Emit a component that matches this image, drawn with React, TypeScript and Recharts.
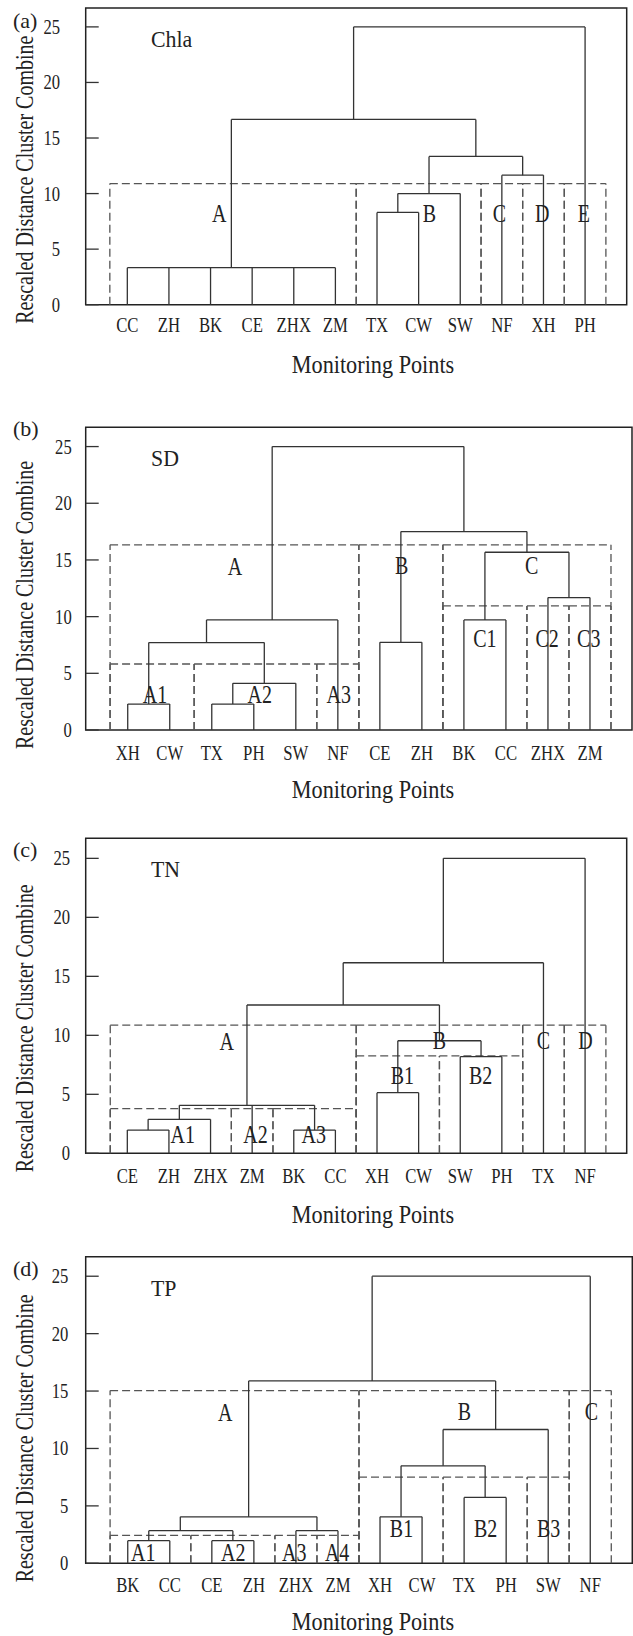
import React from 'react';
import { ComposedChart, XAxis, YAxis, ReferenceLine, ReferenceArea, Scatter } from 'recharts';

const FONT = "'Liberation Serif', 'Times New Roman', Times, serif";
const SOLID = '#333';
const DASH = '#555';
const TEXT = '#222';

// ---------- (a) Chla ----------
const leavesA = ['CC', 'ZH', 'BK', 'CE', 'ZHX', 'ZM', 'TX', 'CW', 'SW', 'NF', 'XH', 'PH'];
const mergesA = [
  { kids: ['CC', 'ZH', 'BK', 'CE', 'ZHX', 'ZM'], h: 3.33 },
  { kids: ['TX', 'CW'], h: 8.3 },
  { kids: ['#1', 'SW'], h: 10.0 },
  { kids: ['NF', 'XH'], h: 11.66 },
  { kids: ['#2', '#3'], h: 13.34 },
  { kids: ['#0', '#4'], h: 16.67 },
  { kids: ['#5', 'PH'], h: 25 },
];
const boxesA = [
  { x1: -0.42, x2: 5.5, top: 10.9 },
  { x1: 5.5, x2: 8.5, top: 10.9 },
  { x1: 8.5, x2: 9.5, top: 10.9 },
  { x1: 9.5, x2: 10.5, top: 10.9 },
  { x1: 10.5, x2: 11.5, top: 10.9 },
];
const groupLabelsA = [
  { name: 'A', x: 2.21, y: 8.2 },
  { name: 'B', x: 7.26, y: 8.2 },
  { name: 'C', x: 8.94, y: 8.2 },
  { name: 'D', x: 9.97, y: 8.2 },
  { name: 'E', x: 10.97, y: 8.2 },
];

// ---------- (b) SD ----------
const leavesB = ['XH', 'CW', 'TX', 'PH', 'SW', 'NF', 'CE', 'ZH', 'BK', 'CC', 'ZHX', 'ZM'];
const mergesB = [
  { kids: ['XH', 'CW'], h: 2.29 },
  { kids: ['TX', 'PH'], h: 2.29 },
  { kids: ['#1', 'SW'], h: 4.12 },
  { kids: ['#0', '#2'], h: 7.71 },
  { kids: ['#3', 'NF'], h: 9.71 },
  { kids: ['CE', 'ZH'], h: 7.73 },
  { kids: ['BK', 'CC'], h: 9.71 },
  { kids: ['ZHX', 'ZM'], h: 11.68 },
  { kids: ['#6', '#7'], h: 15.68 },
  { kids: ['#5', '#8'], h: 17.5 },
  { kids: ['#4', '#9'], h: 25 },
];
const boxesB = [
  { x1: -0.42, x2: 5.5, top: 16.33 },
  { x1: 5.5, x2: 7.5, top: 16.33 },
  { x1: 7.5, x2: 11.5, top: 16.33 },
  { x1: -0.42, x2: 1.58, top: 5.82 },
  { x1: 1.58, x2: 4.5, top: 5.82 },
  { x1: 4.5, x2: 5.5, top: 5.82 },
  { x1: 7.5, x2: 9.5, top: 10.94 },
  { x1: 9.5, x2: 10.5, top: 10.94 },
  { x1: 10.5, x2: 11.5, top: 10.94 },
];
const groupLabelsB = [
  { name: 'A', x: 2.55, y: 14.4 },
  { name: 'A1', x: 0.65, y: 3.1 },
  { name: 'A2', x: 3.14, y: 3.1 },
  { name: 'A3', x: 5.02, y: 3.1 },
  { name: 'B', x: 6.52, y: 14.5 },
  { name: 'C', x: 9.61, y: 14.5 },
  { name: 'C1', x: 8.5, y: 8.1 },
  { name: 'C2', x: 9.98, y: 8.1 },
  { name: 'C3', x: 10.97, y: 8.1 },
];

// ---------- (c) TN ----------
const leavesC = ['CE', 'ZH', 'ZHX', 'ZM', 'BK', 'CC', 'XH', 'CW', 'SW', 'PH', 'TX', 'NF'];
const mergesC = [
  { kids: ['CE', 'ZH'], h: 1.97 },
  { kids: ['#0', 'ZHX'], h: 2.88 },
  { kids: ['BK', 'CC'], h: 1.97 },
  { kids: ['#1', 'ZM', '#2'], h: 4.07 },
  { kids: ['XH', 'CW'], h: 5.14 },
  { kids: ['SW', 'PH'], h: 8.19 },
  { kids: ['#4', '#5'], h: 9.54 },
  { kids: ['#3', '#6'], h: 12.57 },
  { kids: ['#7', 'TX'], h: 16.15 },
  { kids: ['#8', 'NF'], h: 25 },
];
const boxesC = [
  { x1: -0.41, x2: 5.5, top: 10.87 },
  { x1: 5.5, x2: 9.5, top: 10.87 },
  { x1: 9.5, x2: 10.5, top: 10.87 },
  { x1: 10.5, x2: 11.5, top: 10.87 },
  { x1: -0.41, x2: 2.5, top: 3.78 },
  { x1: 2.5, x2: 3.5, top: 3.78 },
  { x1: 3.5, x2: 5.5, top: 3.78 },
  { x1: 5.5, x2: 7.5, top: 8.25 },
  { x1: 7.5, x2: 9.5, top: 8.25 },
];
const groupLabelsC = [
  { name: 'A', x: 2.39, y: 9.5 },
  { name: 'A1', x: 1.33, y: 1.6 },
  { name: 'A2', x: 3.08, y: 1.6 },
  { name: 'A3', x: 4.48, y: 1.6 },
  { name: 'B', x: 7.5, y: 9.6 },
  { name: 'B1', x: 6.61, y: 6.6 },
  { name: 'B2', x: 8.49, y: 6.6 },
  { name: 'C', x: 10.0, y: 9.6 },
  { name: 'D', x: 11.01, y: 9.6 },
];

// ---------- (d) TP ----------
const leavesD = ['BK', 'CC', 'CE', 'ZH', 'ZHX', 'ZM', 'XH', 'CW', 'TX', 'PH', 'SW', 'NF'];
const mergesD = [
  { kids: ['BK', 'CC'], h: 1.97 },
  { kids: ['CE', 'ZH'], h: 1.97 },
  { kids: ['#0', '#1'], h: 2.84, stem: 1.25 },
  { kids: ['ZHX', 'ZM'], h: 2.84 },
  { kids: ['#2', '#3'], h: 4.05 },
  { kids: ['XH', 'CW'], h: 4.05 },
  { kids: ['TX', 'PH'], h: 5.74 },
  { kids: ['#5', '#6'], h: 8.49 },
  { kids: ['#7', 'SW'], h: 11.65 },
  { kids: ['#4', '#8'], h: 15.88 },
  { kids: ['#9', 'NF'], h: 25 },
];
const boxesD = [
  { x1: -0.42, x2: 5.5, top: 15.04 },
  { x1: 5.5, x2: 10.5, top: 15.04 },
  { x1: 10.5, x2: 11.5, top: 15.04 },
  { x1: -0.42, x2: 1.5, top: 2.43 },
  { x1: 1.5, x2: 3.5, top: 2.43 },
  { x1: 3.5, x2: 4.5, top: 2.43 },
  { x1: 4.5, x2: 5.5, top: 2.43 },
  { x1: 5.5, x2: 7.5, top: 7.5 },
  { x1: 7.5, x2: 9.5, top: 7.5 },
  { x1: 9.5, x2: 10.5, top: 7.5 },
];
const groupLabelsD = [
  { name: 'A', x: 2.32, y: 13.1 },
  { name: 'A1', x: 0.37, y: 0.9 },
  { name: 'A2', x: 2.51, y: 0.9 },
  { name: 'A3', x: 3.96, y: 0.9 },
  { name: 'A4', x: 4.98, y: 0.9 },
  { name: 'B', x: 8.01, y: 13.2 },
  { name: 'B1', x: 6.51, y: 3.0 },
  { name: 'B2', x: 8.51, y: 3.0 },
  { name: 'B3', x: 10.01, y: 3.0 },
  { name: 'C', x: 11.03, y: 13.2 },
];

const yTicks = [0, 5, 10, 15, 20, 25];
const yMax = 26.7;
const xTitle = 'Monitoring Points';
const yTitle = 'Rescaled Distance Cluster Combine';

function CText({ x, y, text, size, sx = 1, anchor = 'middle', rotate = 0 }: any) {
  const tr = `translate(${x},${y})${rotate ? ` rotate(${rotate})` : ''} scale(${sx},1)`;
  return (
    <text transform={tr} x={0} y={0} textAnchor={anchor} fontFamily={FONT} fontSize={size} fill={TEXT}>
      {text}
    </text>
  );
}

function buildTree(leaves: string[], merges: any[]) {
  const nodes: { x: number; h: number }[] = [];
  const segs: number[][] = [];
  const pos = (k: string) => (k[0] === '#' ? nodes[Number(k.slice(1))] : { x: leaves.indexOf(k), h: 0 });
  merges.forEach((m) => {
    const kids = m.kids.map(pos);
    const xs = kids.map((c: any) => c.x);
    const lo = Math.min(...xs);
    const hi = Math.max(...xs);
    kids.forEach((c: any) => segs.push([c.x, c.h, c.x, m.h]));
    segs.push([lo, m.h, hi, m.h]);
    nodes.push({ x: m.stem !== undefined ? m.stem : (kids[0].x + kids[kids.length - 1].x) / 2, h: m.h });
  });
  return segs;
}

function buildBoxes(boxes: any[]) {
  const segs: number[][] = [];
  boxes.forEach((b) => {
    segs.push([b.x1, 0, b.x1, b.top]);
    segs.push([b.x1, b.top, b.x2, b.top]);
    segs.push([b.x2, 0, b.x2, b.top]);
  });
  return segs;
}

const panels = [
  { letter: '(a)', title: 'Chla', leaves: leavesA, merges: mergesA, boxes: boxesA, labels: groupLabelsA,
    top: 0, height: 410, plotTop: 8, plotBottom: 304.7, plotRight: 626.7, tickRight: 60, leafBase: 27, xTitleBase: 68, letterBase: 19.5 },
  { letter: '(b)', title: 'SD', leaves: leavesB, merges: mergesB, boxes: boxesB, labels: groupLabelsB,
    top: 410, height: 410, plotTop: 17.3, plotBottom: 320, plotRight: 632, tickRight: 71.7, leafBase: 30, xTitleBase: 68, letterBase: 9 },
  { letter: '(c)', title: 'TN', leaves: leavesC, merges: mergesC, boxes: boxesC, labels: groupLabelsC,
    top: 820, height: 420, plotTop: 18.3, plotBottom: 333.3, plotRight: 626.7, tickRight: 70, leafBase: 29.7, xTitleBase: 70, letterBase: 19 },
  { letter: '(d)', title: 'TP', leaves: leavesD, merges: mergesD, boxes: boxesD, labels: groupLabelsD,
    top: 1240, height: 396, plotTop: 16.7, plotBottom: 323.3, plotRight: 632.3, tickRight: 68.3, leafBase: 28.7, xTitleBase: 66.5, letterBase: 19 },
];

const W = 633;
const AXIS_H = 70;
const YAXIS_W = 85.7;

function Panel({ cfg }: any) {
  const margin = { top: cfg.plotTop, right: W - cfg.plotRight, left: 0, bottom: cfg.height - cfg.plotBottom - AXIS_H };
  const solid = buildTree(cfg.leaves, cfg.merges);
  const dashed = buildBoxes(cfg.boxes);
  const xIdx = cfg.leaves.map((_: string, i: number) => i);

  const leafTick = (p: any) => (
    <CText x={p.x} y={cfg.plotBottom + cfg.leafBase} text={cfg.leaves[p.payload.value]} size={22} sx={0.76} />
  );
  const yTick = (p: any) => (
    <g>
      <line x1={YAXIS_W} x2={YAXIS_W + 13} y1={p.y} y2={p.y} stroke={SOLID} strokeWidth={1.3} />
      <CText x={cfg.tickRight} y={p.y + 7} text={String(p.payload.value)} size={20} sx={0.83} anchor="end" />
    </g>
  );
  const xLabel = () => (
    <CText x={373} y={cfg.plotBottom + cfg.xTitleBase} text={xTitle} size={25} sx={0.89} />
  );
  const yLabel = () => (
    <g>
      <CText x={33} y={cfg.plotBottom - 125} text={yTitle} size={25} sx={0.8} rotate={-90} />
      <CText x={13} y={cfg.plotTop + cfg.letterBase} text={cfg.letter} size={22} anchor="start" />
      <CText x={151} y={cfg.plotTop + 39} text={cfg.title} size={23} sx={0.95} anchor="start" />
    </g>
  );
  const groupShape = (p: any) => (
    <CText x={p.cx} y={p.cy + 8.5} text={p.payload.name} size={25} sx={0.8} />
  );

  return (
    <div style={{ position: 'absolute', left: 0, top: cfg.top, width: W, height: cfg.height }}>
      <ComposedChart width={W} height={cfg.height} margin={margin}>
        <XAxis type="number" dataKey="x" domain={[-1, 12]} ticks={xIdx} interval={0} allowDataOverflow
          axisLine={false} tickLine={false} tickSize={0} tickMargin={0} height={AXIS_H} tick={leafTick} label={xLabel} />
        <YAxis type="number" domain={[0, yMax]} ticks={yTicks} interval={0} allowDataOverflow
          axisLine={false} tickLine={false} tickSize={0} tickMargin={0} width={YAXIS_W} tick={yTick} label={yLabel} />
        <ReferenceArea x1={-1} x2={12} y1={0} y2={yMax} fill="none" fillOpacity={0} stroke="#222" strokeWidth={1.5} ifOverflow="visible" />
        {dashed.map((s, i) => (
          <ReferenceLine key={'d' + i} segment={[{ x: s[0], y: s[1] }, { x: s[2], y: s[3] }]}
            stroke={DASH} strokeWidth={1.3} strokeDasharray="8 4" ifOverflow="visible" />
        ))}
        {solid.map((s, i) => (
          <ReferenceLine key={'s' + i} segment={[{ x: s[0], y: s[1] }, { x: s[2], y: s[3] }]}
            stroke={SOLID} strokeWidth={1.3} ifOverflow="visible" />
        ))}
        <Scatter data={cfg.labels} dataKey="y" shape={groupShape} isAnimationActive={false} />
      </ComposedChart>
    </div>
  );
}

export default function App() {
  return (
    <div style={{ position: 'absolute', left: 0, top: 0, width: W, height: 1636, background: '#fff' }}>
      {panels.map((p) => (
        <Panel key={p.letter} cfg={p} />
      ))}
    </div>
  );
}
